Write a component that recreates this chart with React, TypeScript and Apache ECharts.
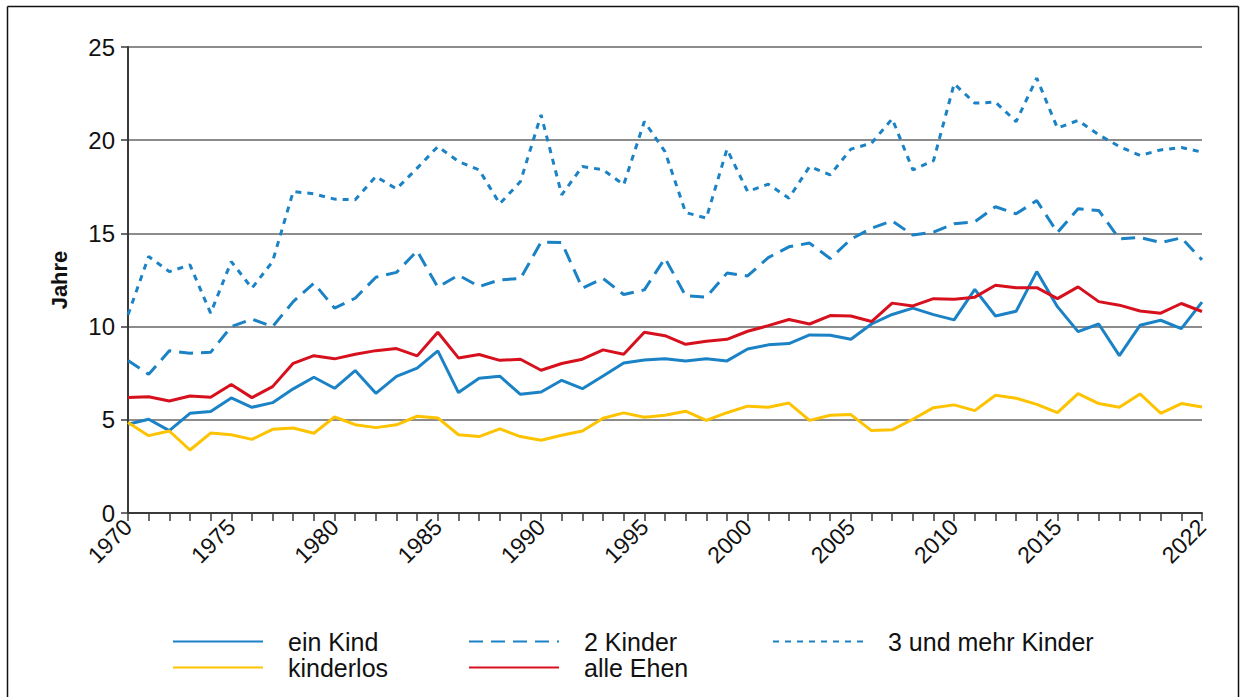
import React, { useEffect, useRef } from "react";
import * as echarts from "echarts";

const years = [
  1970, 1971, 1972, 1973, 1974, 1975, 1976, 1977, 1978, 1979,
  1980, 1981, 1982, 1983, 1984, 1985, 1986, 1987, 1988, 1989,
  1990, 1991, 1992, 1993, 1994, 1995, 1996, 1997, 1998, 1999,
  2000, 2001, 2002, 2003, 2004, 2005, 2006, 2007, 2008, 2009,
  2010, 2011, 2012, 2013, 2014, 2015, 2016, 2017, 2018, 2019,
  2020, 2021, 2022,
];

const einKind = [
  4.76, 5.03, 4.42, 5.35, 5.44, 6.17, 5.67, 5.92, 6.66, 7.28,
  6.69, 7.64, 6.42, 7.33, 7.77, 8.7, 6.46, 7.23, 7.34, 6.37,
  6.49, 7.12, 6.67, 7.35, 8.05, 8.21, 8.28, 8.16, 8.27, 8.16,
  8.8, 9.02, 9.09, 9.55, 9.54, 9.32, 10.14, 10.65, 10.99, 10.64,
  10.36, 12.0, 10.57, 10.82, 12.95, 11.07, 9.73, 10.14, 8.44, 10.07,
  10.34, 9.89, 11.31,
];

const kinderlos = [
  4.85, 4.15, 4.4, 3.38, 4.29, 4.2, 3.95, 4.49, 4.56, 4.28,
  5.15, 4.74, 4.58, 4.73, 5.19, 5.1, 4.2, 4.1, 4.51, 4.1,
  3.9, 4.17, 4.4, 5.08, 5.37, 5.14, 5.24, 5.46, 4.97, 5.38,
  5.73, 5.67, 5.9, 4.97, 5.24, 5.28, 4.42, 4.46, 5.03, 5.65,
  5.8, 5.49, 6.32, 6.16, 5.83, 5.38, 6.4, 5.87, 5.67, 6.39,
  5.35, 5.87, 5.69,
];

const alleEhen = [
  6.19, 6.24, 6.01, 6.28, 6.21, 6.89, 6.19, 6.78, 8.03, 8.44,
  8.27, 8.52, 8.71, 8.82, 8.43, 9.7, 8.32, 8.5, 8.19, 8.25,
  7.66, 8.02, 8.25, 8.75, 8.52, 9.7, 9.51, 9.05, 9.21, 9.32,
  9.75, 10.05, 10.38, 10.14, 10.59, 10.57, 10.27, 11.26, 11.11, 11.5,
  11.47, 11.58, 12.22, 12.08, 12.09, 11.5, 12.13, 11.34, 11.15, 10.84,
  10.72, 11.24, 10.81,
];

const zweiKinder = [
  8.18, 7.44, 8.7, 8.57, 8.62, 10.0, 10.4, 10.0, 11.34, 12.33,
  10.99, 11.52, 12.65, 12.91, 14.06, 12.11, 12.76, 12.15, 12.51, 12.58,
  14.53, 14.51, 12.06, 12.58, 11.72, 11.97, 13.67, 11.65, 11.58, 12.87,
  12.72, 13.7, 14.28, 14.48, 13.65, 14.69, 15.28, 15.67, 14.91, 15.07,
  15.52, 15.62, 16.43, 16.05, 16.76, 15.05, 16.32, 16.23, 14.71, 14.78,
  14.51, 14.76, 13.58,
];

const dreiUndMehr = [
  10.63, 13.76, 12.95, 13.31, 10.72, 13.49, 12.06, 13.49, 17.25, 17.12,
  16.84, 16.8, 18.05, 17.39, 18.5, 19.66, 18.86, 18.41, 16.59, 17.78,
  21.36, 17.07, 18.59, 18.41, 17.61, 21.0, 19.39, 16.12, 15.82, 19.52,
  17.25, 17.64, 16.89, 18.59, 18.14, 19.52, 19.84, 21.15, 18.41, 18.9,
  23.03, 21.99, 22.04, 21.0, 23.33, 20.65, 21.06, 20.29, 19.66, 19.18,
  19.48, 19.61, 19.36,
];

const seriesNames = ["ein Kind", "2 Kinder", "3 und mehr Kinder", "kinderlos", "alle Ehen"];
const yTicks = [0, 5, 10, 15, 20, 25];

const BLUE = "#1a82c5";
const YELLOW = "#fdc300";
const RED = "#d7101e";
const FONT = "Liberation Sans";

export default function App() {
  const ref = useRef<HTMLDivElement>(null);

  useEffect(() => {
    document.body.style.margin = "0";
    if (!ref.current) return;
    const chart = echarts.init(ref.current, null, { renderer: "svg" });

    const pairs = (vals: number[]) => years.map((y, i) => [y, vals[i]]);
    const mk = (name: string, vals: number[], color: string, type: any) => ({
      name,
      type: "line",
      data: pairs(vals),
      symbol: "none",
      showSymbol: false,
      lineStyle: { color, width: 3, type },
      itemStyle: { color },
      z: 3,
    });

    const legendPos: Record<string, [number, number]> = {
      "ein Kind": [172, 629],
      "2 Kinder": [468, 629],
      "3 und mehr Kinder": [772, 629],
      kinderlos: [172, 655],
      "alle Ehen": [468, 655],
    };

    const legends = seriesNames.map((n) => ({
      data: [n],
      left: legendPos[n][0],
      top: legendPos[n][1],
      itemWidth: 90,
      itemHeight: 14,
      padding: 0,
      selectedMode: false,
      itemStyle: { opacity: 0, color: "rgba(0,0,0,0)", borderWidth: 0 },
      textStyle: {
        fontFamily: FONT,
        fontSize: 25,
        color: "#111",
        lineHeight: 24,
        padding: [0, 0, 0, 20],
      },
    }));

    chart.setOption({
      animation: false,
      backgroundColor: "#fff",
      textStyle: { fontFamily: FONT },
      grid: { left: 128, right: 39, top: 47, bottom: 184, containLabel: false },
      legend: legends,
      xAxis: {
        type: "value",
        min: 1970,
        max: 2022,
        interval: 1,
        splitLine: { show: false },
        axisLine: { lineStyle: { color: "#3a3a3a", width: 2 } },
        axisTick: { show: true, length: 8, lineStyle: { color: "#3a3a3a", width: 1.5 } },
        axisLabel: {
          rotate: 45,
          fontFamily: FONT,
          fontSize: 23,
          color: "#111",
          margin: 10,
          formatter: (v: number) =>
            (v % 5 === 0 && v !== 2020) || v === 2022 ? String(v) : "",
        },
      },
      yAxis: {
        type: "value",
        min: yTicks[0],
        max: yTicks[yTicks.length - 1],
        interval: 5,
        name: "Jahre",
        nameLocation: "middle",
        nameGap: 58,
        nameTextStyle: { fontFamily: FONT, fontSize: 22, fontWeight: "bold", color: "#111" },
        axisLine: { show: true, lineStyle: { color: "#3a3a3a", width: 2 } },
        axisTick: { show: true, length: 7, lineStyle: { color: "#3a3a3a", width: 1.5 } },
        axisLabel: { fontFamily: FONT, fontSize: 24, color: "#111", margin: 13 },
        splitLine: { lineStyle: { color: "#8c8c8c", width: 2 } },
      },
      graphic: [
        { type: "line", shape: { x1: 7.5, y1: 6.5, x2: 1238.5, y2: 6.5 }, style: { stroke: "#111", lineWidth: 1.5 } },
        { type: "line", shape: { x1: 7.5, y1: 6.5, x2: 7.5, y2: 697 }, style: { stroke: "#111", lineWidth: 1.5 } },
        { type: "line", shape: { x1: 1238.5, y1: 6.5, x2: 1238.5, y2: 697 }, style: { stroke: "#111", lineWidth: 1.5 } },
      ],
      series: [
        mk("ein Kind", einKind, BLUE, "solid"),
        mk("2 Kinder", zweiKinder, BLUE, [14, 8]),
        mk("3 und mehr Kinder", dreiUndMehr, BLUE, [6, 6]),
        mk("kinderlos", kinderlos, YELLOW, "solid"),
        mk("alle Ehen", alleEhen, RED, "solid"),
      ],
    });

    return () => chart.dispose();
  }, []);

  return <div ref={ref} style={{ width: 1241, height: 697 }} />;
}
